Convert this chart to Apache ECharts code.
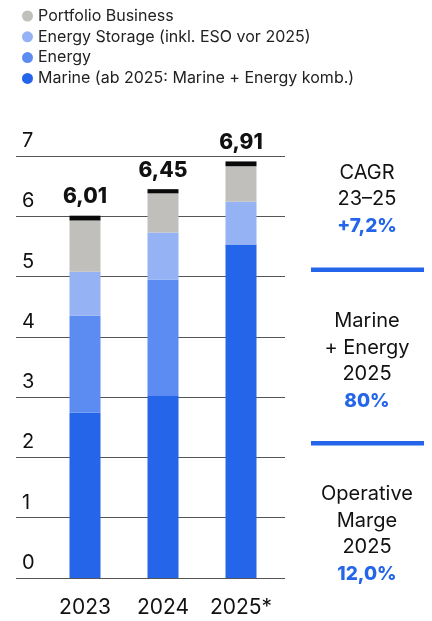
<!DOCTYPE html>
<html lang="de">

<head>
    <meta charset="UTF-8">
    <title>Umsatz nach Segmenten</title>
    <script src="https://cdn.jsdelivr.net/npm/echarts@6/dist/echarts.min.js"></script>
    <style>
        html, body {
            margin: 0;
            padding: 0;
            background: #ffffff;
        }

        #chart {
            width: 432px;
            height: 621px;
        }
    </style>
</head>

<body>
    <div id="chart"></div>

    <script>
        // Werte in Mrd. EUR
        const years = ['2023', '2024', '2025*'];
        const marine = [2.74, 3.02, 5.53];
        const energy = [1.61, 1.93, 0];
        const storage = [0.73, 0.78, 0.71];
        const portfolio = [0.85, 0.65, 0.59];
        const capPart = [0.08, 0.07, 0.08]; // schwarzer Abschluss oben
        const totals = [6.01, 6.45, 6.91];

        const legendNames = [
            'Portfolio Business',
            'Energy Storage (inkl. ESO vor 2025)',
            'Energy',
            'Marine (ab 2025: Marine + Energy komb.)'
        ];

        // Kennzahlen rechts
        const kpiBlocks = [
            { lines: ['CAGR', '23–25'], value: '+7,2%', top: 172.5 },
            { lines: ['Marine', '+ Energy', '2025'], value: '80%', top: 321 },
            { lines: ['Operative', 'Marge', '2025'], value: '12,0%', top: 494 }
        ];

        const BLUE = '#2465e9';
        const FONT = 'Inter, "Noto Sans", sans-serif';

        const chart = echarts.init(document.getElementById('chart'));

        function fmt(v) {
            return v.toFixed(2).replace('.', ',');
        }

        function segment(name, data, color) {
            return {
                name: name,
                type: 'bar',
                stack: 'total',
                xAxisIndex: 1,
                yAxisIndex: 1,
                barWidth: 31,
                data: data,
                itemStyle: { color: color },
                emphasis: { disabled: true }
            };
        }

        // rechte Spalte als Grafik-Elemente
        const graphics = [];
        kpiBlocks.forEach(function(b, i) {
            b.lines.forEach(function(t, j) {
                graphics.push({
                    type: 'text',
                    x: 367,
                    y: b.top + j * 26.5,
                    style: {
                        text: t,
                        font: '20px ' + FONT,
                        fill: '#111',
                        textAlign: 'center',
                        textVerticalAlign: 'middle'
                    }
                });
            });
            graphics.push({
                type: 'text',
                x: 367,
                y: b.top + b.lines.length * 26.5 + 1,
                style: {
                    text: b.value,
                    font: '800 19px ' + FONT,
                    fill: BLUE,
                    textAlign: 'center',
                    textVerticalAlign: 'middle'
                }
            });
            if (i < kpiBlocks.length - 1) {
                graphics.push({
                    type: 'rect',
                    shape: { x: 311, y: i === 0 ? 267.5 : 441, width: 113, height: 4.5 },
                    style: { fill: BLUE }
                });
            }
        });

        const option = {
            animation: false,
            textStyle: { fontFamily: FONT },
            legend: {
                orient: 'vertical',
                left: 17,
                top: 3,
                icon: 'circle',
                itemWidth: 11,
                itemHeight: 11,
                itemGap: 4.8,
                selectedMode: false,
                data: legendNames,
                textStyle: { fontSize: 16, color: '#222', lineHeight: 16 }
            },
            grid: [
                // Raster und y-Achse über die ganze Breite
                { left: 16, right: 147, top: 156, bottom: 43 },
                // Balken
                { left: 46, right: 152, top: 156, bottom: 43 }
            ],
            xAxis: [
                { type: 'value', gridIndex: 0, show: false, min: 0, max: 1 },
                {
                    type: 'category',
                    gridIndex: 1,
                    data: years,
                    axisLine: { show: false },
                    axisTick: { show: false },
                    axisLabel: { interval: 0, fontSize: 21, color: '#111', margin: 19 }
                }
            ],
            yAxis: [
                {
                    type: 'value',
                    gridIndex: 0,
                    min: 0,
                    max: 7,
                    interval: 1,
                    axisLine: { show: false },
                    axisTick: { show: false },
                    splitLine: { lineStyle: { color: '#555', width: 1.2 } },
                    axisLabel: {
                        inside: true,
                        margin: 6,
                        align: 'left',
                        verticalAlign: 'bottom',
                        padding: [0, 0, 5, 0],
                        fontSize: 20,
                        color: '#111'
                    }
                },
                { type: 'value', gridIndex: 1, min: 0, max: 7, interval: 1, show: false }
            ],
            series: [
                segment(legendNames[3], marine, BLUE),
                segment(legendNames[2], energy, '#5c8cf1'),
                segment(legendNames[1], storage, '#94b2f4'),
                segment(legendNames[0], portfolio, '#c0bfbb'),
                {
                    name: 'cap',
                    type: 'bar',
                    stack: 'total',
                    xAxisIndex: 1,
                    yAxisIndex: 1,
                    barWidth: 31,
                    data: capPart,
                    itemStyle: { color: '#0a0a0a' },
                    emphasis: { disabled: true },
                    label: {
                        show: true,
                        position: 'top',
                        distance: 8,
                        fontSize: 21,
                        fontWeight: 800,
                        color: '#111',
                        formatter: function(p) {
                            return fmt(totals[p.dataIndex]);
                        }
                    }
                }
            ],
            graphic: graphics
        };

        chart.setOption(option);
    </script>
</body>

</html>
